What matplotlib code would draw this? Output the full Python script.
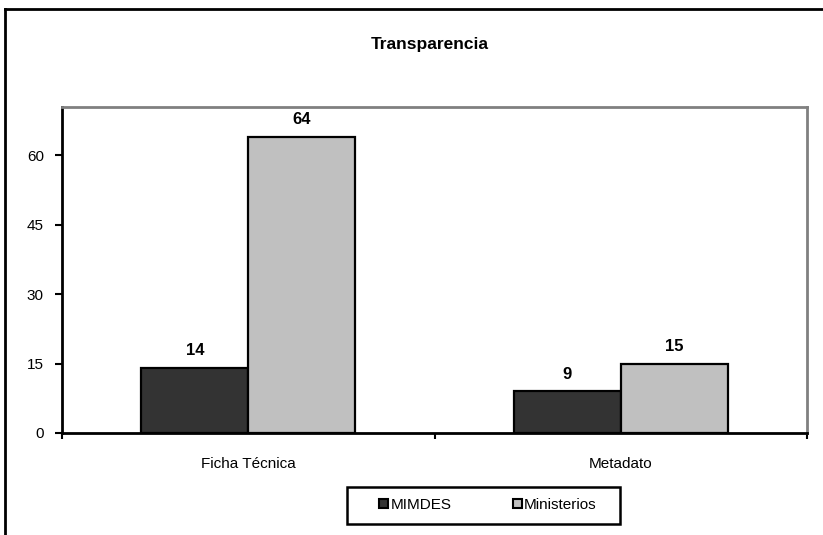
import matplotlib
matplotlib.use("Agg")
import matplotlib.pyplot as plt
from matplotlib.lines import Line2D
from matplotlib.patches import Rectangle
import numpy as np

categories = ["Ficha Técnica", "Metadato"]
series_names = ["MIMDES", "Ministerios"]
mimdes = [14, 9]
ministerios = [64, 15]
yticks = [0, 15, 30, 45, 60]
title = "Transparencia"

FONT = ['Liberation Sans Narrow', 'Liberation Sans', 'DejaVu Sans']
plt.rcParams['font.family'] = FONT

W, H = 823, 535
fig = plt.figure(figsize=(W / 100, H / 100), dpi=100)
ax = fig.add_axes([62 / W, 1 - 433 / H, (807 - 62) / W, (433 - 107) / H])

x = np.arange(len(categories)) + 0.5
bw = 0.287
b1 = ax.bar(x - bw / 2, mimdes, bw, color='#333333', edgecolor='black', linewidth=1.6,
            label=series_names[0], zorder=3)
b2 = ax.bar(x + bw / 2, ministerios, bw, color='#C0C0C0', edgecolor='black', linewidth=1.6,
            label=series_names[1], zorder=3)
for bars in (b1, b2):
    for r in bars:
        ax.annotate(f"{int(r.get_height())}", (r.get_x() + r.get_width() / 2, r.get_height()),
                    xytext=(0, 7), textcoords='offset points', ha='center', va='bottom',
                    fontsize=12, fontweight='bold')

ax.set_xlim(0, len(categories))
ax.set_ylim(0, 70.4)
ax.set_yticks(yticks)
ax.set_yticklabels([str(v) for v in yticks], fontsize=11)
ax.set_xticks([0, 1, 2])
ax.set_xticklabels([])
ax.set_xticks(x, minor=True)
ax.set_xticklabels(categories, minor=True, fontsize=11)
ax.tick_params(axis='x', which='minor', length=0, pad=17)
ax.tick_params(axis='x', which='major', length=4, width=1.5, direction='out')
ax.tick_params(axis='y', length=5, width=1.5, direction='out', pad=8)

for s in ('left', 'bottom'):
    ax.spines[s].set_color('black')
    ax.spines[s].set_linewidth(2)
for s in ('top', 'right'):
    ax.spines[s].set_color('#808080')
    ax.spines[s].set_linewidth(2)

fig.text(430 / W, 1 - 45 / H, title, ha='center', va='center', fontsize=12.5, fontweight='bold')

# legend frame
fig.add_artist(Rectangle((347 / W, 1 - 524 / H), (620 - 347) / W, (524 - 487) / H,
                         transform=fig.transFigure, facecolor='white', edgecolor='black',
                         linewidth=1.8, zorder=4))
leg = fig.legend(handles=[b1, b2], labels=series_names, loc='center',
                 bbox_to_anchor=(488 / W, 1 - 505 / H), ncol=2, fontsize=11,
                 frameon=False, handlelength=0.6, handleheight=0.6,
                 handletextpad=0.15, columnspacing=4.0)
leg.set_zorder(5)
for h in leg.legend_handles:
    h.set_linewidth(1.5)

# outer border (top & left visible)
fig.add_artist(Line2D([5 / W, 1], [1 - 9 / H, 1 - 9 / H], color='black', linewidth=2,
                      transform=fig.transFigure))
fig.add_artist(Line2D([5 / W, 5 / W], [0, 1 - 9 / H], color='black', linewidth=2,
                      transform=fig.transFigure))

fig.savefig("out.png", dpi=100)
